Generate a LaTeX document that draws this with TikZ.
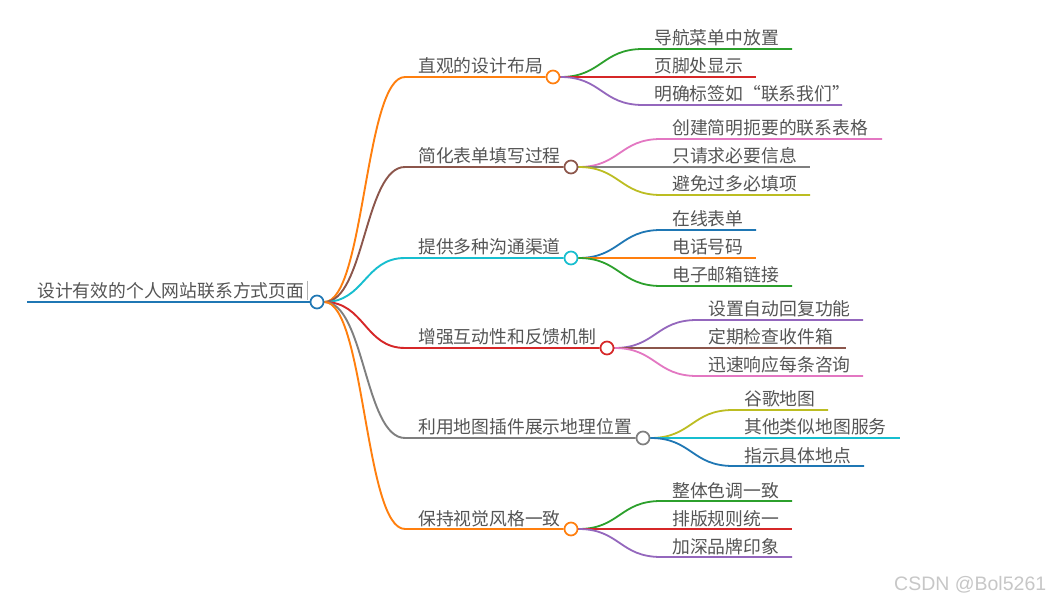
\documentclass[tikz,border=0pt]{standalone}
\usepackage{fontspec}
\newfontfamily\cjk{Noto Sans CJK SC}
\newfontfamily\wmfont{Liberation Sans}
\usetikzlibrary{calc}
\pgfdeclarelayer{bg}
\pgfdeclarelayer{canvas}
\pgfsetlayers{canvas,bg,main}
\definecolor{cblue}{HTML}{1F77B4}
\definecolor{corange}{HTML}{FF7F0E}
\definecolor{cgreen}{HTML}{2CA02C}
\definecolor{cred}{HTML}{D62728}
\definecolor{cpurple}{HTML}{9467BD}
\definecolor{cbrown}{HTML}{8C564B}
\definecolor{cpink}{HTML}{E377C2}
\definecolor{cgray}{HTML}{7F7F7F}
\definecolor{colive}{HTML}{BCBD22}
\definecolor{ccyan}{HTML}{17BECF}
\definecolor{ctext}{HTML}{555555}
\tikzset{
  dot/.style={circle,draw,fill=white,line width=1.7pt,minimum size=13pt,inner sep=0pt},
  lab/.style={anchor=base west,inner sep=0pt,text=ctext,font=\cjk\fontsize{17.8}{20}\selectfont},
  l0/.style={line width=2.6pt},
  l1/.style={line width=1.9pt},
  l2/.style={line width=1.8pt},
}
% level-1 branch: name, y, circle x, colour, text
\newcommand\mainbr[5]{%
  \coordinate (#1s) at (405,#2);
  \node[dot,draw=#4] (#1) at (#3,#2) {};
  \node[lab] (#1t) at ([xshift=13pt,yshift=4pt]#1s) {#5};
  \begin{pgfonlayer}{bg}
  \draw[l1,#4] let \p1=(r.east), \p2=(#1s) in (r.east) .. controls ({(\x1+\x2)/2},\y1) and ({(\x1+\x2)/2},\y2) .. (#1s) -- (#1.west);
  \end{pgfonlayer}
}
% level-2 branch: name, parent, colour, y, start x, end x, text
\newcommand\kidbr[7]{%
  \coordinate (#1s) at (#5,#4);
  \coordinate (#1e) at (#6,#4);
  \node[lab] (#1t) at ([xshift=11pt,yshift=4pt]#1s) {#7};
  \begin{pgfonlayer}{bg}
  \draw[l2,#3] let \p1=(#2.east), \p2=(#1s) in (#2.east) .. controls ({(\x1+\x2)/2},\y1) and ({(\x1+\x2)/2},\y2) .. (#1s) -- (#1e);
  \end{pgfonlayer}
}
\begin{document}
\begin{tikzpicture}[x=1pt,y=-1pt]
\begin{pgfonlayer}{canvas}
\fill[white] (0,0) rectangle (1055,601);
\end{pgfonlayer}
\useasboundingbox (0,0) rectangle (1055,601);
% root
\node[dot,draw=cblue] (r) at (317,302) {};
\coordinate (rs) at (27,302);
\node[lab] (rt) at (37,298) {设计有效的个人网站联系方式页面};
\begin{pgfonlayer}{bg}
\draw[l0,cblue] (rs) -- (r.west);
\end{pgfonlayer}
\draw[gray!60,line width=0.7pt] (307,281) -- (307,300);
% branches
\mainbr{a}{77}{553}{corange}{直观的设计布局}
\kidbr{a1}{a}{cgreen}{49}{643}{792}{导航菜单中放置}
\kidbr{a2}{a}{cred}{77}{643}{756}{页脚处显示}
\kidbr{a3}{a}{cpurple}{105}{643}{842}{明确标签如“联系我们”}

\mainbr{b}{167}{571}{cbrown}{简化表单填写过程}
\kidbr{b1}{b}{cpink}{139}{661}{882}{创建简明扼要的联系表格}
\kidbr{b2}{b}{cgray}{167}{661}{810}{只请求必要信息}
\kidbr{b3}{b}{colive}{195}{661}{810}{避免过多必填项}

\mainbr{c}{258}{571}{ccyan}{提供多种沟通渠道}
\kidbr{c1}{c}{cblue}{230}{661}{756}{在线表单}
\kidbr{c2}{c}{corange}{258}{661}{756}{电话号码}
\kidbr{c3}{c}{cgreen}{286}{661}{792}{电子邮箱链接}

\mainbr{d}{348}{607}{cred}{增强互动性和反馈机制}
\kidbr{d1}{d}{cpurple}{320}{697}{863}{设置自动回复功能}
\kidbr{d2}{d}{cbrown}{348}{697}{846}{定期检查收件箱}
\kidbr{d3}{d}{cpink}{376}{697}{863}{迅速响应每条咨询}

\mainbr{e}{438}{643}{cgray}{利用地图插件展示地理位置}
\kidbr{e1}{e}{colive}{410}{733}{828}{谷歌地图}
\kidbr{e2}{e}{ccyan}{438}{733}{900}{其他类似地图服务}
\kidbr{e3}{e}{cblue}{466}{733}{864}{指示具体地点}

\mainbr{f}{529}{571}{corange}{保持视觉风格一致}
\kidbr{f1}{f}{cgreen}{501}{661}{792}{整体色调一致}
\kidbr{f2}{f}{cred}{529}{661}{792}{排版规则统一}
\kidbr{f3}{f}{cpurple}{557}{661}{792}{加深品牌印象}

\node[anchor=base west,inner sep=0pt,text=black!22,font=\wmfont\fontsize{19.5}{21}\selectfont] (wm) at (894,590) {CSDN @Bol5261};
\end{tikzpicture}
\end{document}
